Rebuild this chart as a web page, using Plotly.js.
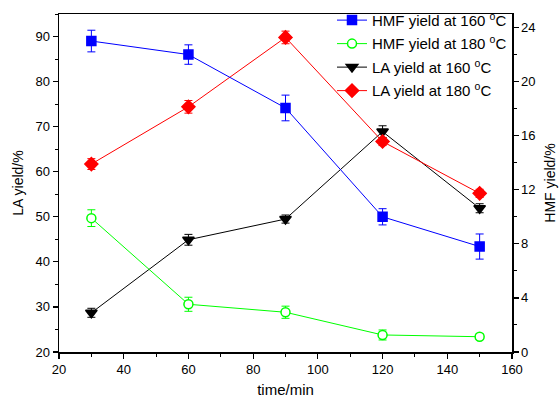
<!DOCTYPE html>
<html>
<head>
<meta charset="utf-8">
<script src="https://cdn.plot.ly/plotly-3.0.1.min.js"></script>
<style>html,body{margin:0;padding:0;background:#fff;}#chart{width:560px;height:400px;}</style>
</head>
<body>
<div id="chart"></div>
<script>
const time = [30, 60, 90, 120, 150];
const hmf160 = [23.0, 22.0, 18.05, 10.0, 7.8];
const hmf160Err = [0.8, 0.72, 0.95, 0.6, 0.93];
const hmf180 = [9.9, 3.53, 2.94, 1.26, 1.13];
const hmf180Err = [0.62, 0.52, 0.45, 0.37, 0.2];
const la160 = [28.7, 44.9, 49.5, 68.9, 51.9];
const la160Err = [1.0, 1.2, 0.9, 1.3, 1.0];
const la180 = [61.7, 74.4, 89.8, 66.7, 55.2];
const la180Err = [1.2, 1.4, 1.4, 0.9, 0.9];
const names = ['HMF yield at 160 <sup>o</sup>C', 'HMF yield at 180 <sup>o</sup>C',
               'LA yield at 160 <sup>o</sup>C', 'LA yield at 180 <sup>o</sup>C'];

function tr(y, err, name, color, symbol, size, axis, fill, grp) {
  return {
    x: time, y: y, name: name, yaxis: axis, type: 'scatter', mode: 'lines+markers',
    legendgroup: grp,
    line: {color: color, width: 1},
    marker: {color: fill || color, symbol: symbol, size: size, line: {color: color, width: 1.5}},
    error_y: {type: 'data', array: err, visible: true, color: color, thickness: 1, width: 4}
  };
}
const data = [
  tr(hmf160, hmf160Err, names[0], '#0000ff', 'square', 9, 'y2', null, 'g1'),
  tr(hmf180, hmf180Err, names[1], '#00ff00', 'circle', 9, 'y2', '#ffffff', 'g2'),
  tr(la160, la160Err, names[2], '#000000', 'triangle-down', 10, 'y', null, 'g3'),
  tr(la180, la180Err, names[3], '#ff0000', 'diamond', 10, 'y', null, 'g4')
];
const FF = 'Liberation Sans, Arial, sans-serif';
const axFont = {family: FF, size: 13, color: '#000'};
const layout = {
  width: 560, height: 400,
  margin: {l: 59, r: 48, t: 14, b: 48, autoexpand: false},
  paper_bgcolor: '#fff', plot_bgcolor: '#fff',
  font: axFont,
  showlegend: true,
  legend: {x: 1.0, xanchor: 'right', y: 1.03, yanchor: 'top', bgcolor: 'rgba(0,0,0,0)',
           tracegroupgap: 1,
           font: {family: FF, size: 15, color: '#000'}},
  xaxis: {range: [20, 160], dtick: 20, tick0: 0, showgrid: false, zeroline: false,
          showline: true, linecolor: '#000', linewidth: 1.5, mirror: true,
          ticks: 'outside', ticklen: 5, tickwidth: 1.2, tickcolor: '#000', tickfont: axFont,
          minor: {dtick: 10, ticks: 'outside', ticklen: 3, tickcolor: '#000', tickwidth: 1},
          title: {text: 'time/min', font: {family: FF, size: 15, color: '#000'}, standoff: 8}},
  yaxis: {range: [20, 95], dtick: 10, tick0: 0, showgrid: false, zeroline: false,
          showline: true, linecolor: '#000', linewidth: 1.5,
          ticks: 'outside', ticklen: 5, tickwidth: 1.2, tickcolor: '#000', tickfont: axFont,
          minor: {dtick: 5, ticks: 'outside', ticklen: 3, tickcolor: '#000', tickwidth: 1},
          title: {text: 'LA yield/%', font: {family: FF, size: 14, color: '#000'}, standoff: 8}},
  yaxis2: {range: [0, 25], dtick: 4, tick0: 0, overlaying: 'y', side: 'right',
          showgrid: false, zeroline: false,
          showline: true, linecolor: '#000', linewidth: 1.5,
          ticks: 'outside', ticklen: 5, tickwidth: 1.2, tickcolor: '#000', tickfont: axFont,
          minor: {dtick: 2, ticks: 'outside', ticklen: 3, tickcolor: '#000', tickwidth: 1},
          title: {text: 'HMF yield/%', font: {family: FF, size: 14, color: '#000'}, standoff: 10}}
};
Plotly.newPlot('chart', data, layout, {displayModeBar: false, staticPlot: true});
</script>
</body>
</html>
